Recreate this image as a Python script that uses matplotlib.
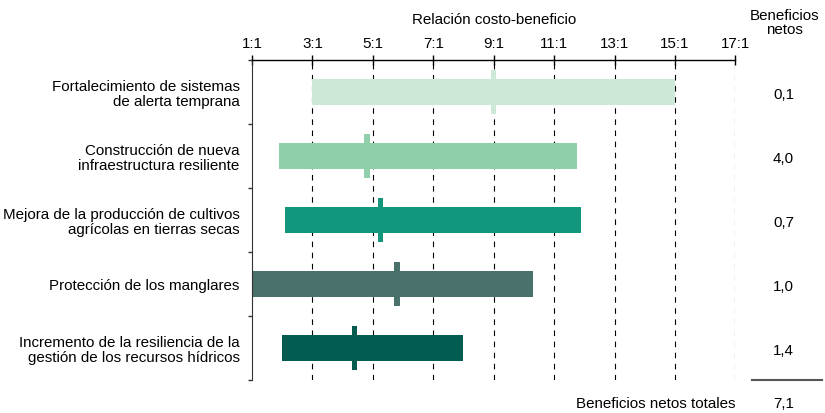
import numpy as np
import matplotlib.pyplot as plt
from matplotlib.ticker import FixedLocator

plt.rcParams['font.family'] = ['Liberation Sans', 'DejaVu Sans']

categories = [
    'Fortalecimiento de sistemas\nde alerta temprana',
    'Construcción de nueva\ninfraestructura resiliente',
    'Mejora de la producción de cultivos\nagrícolas en tierras secas',
    'Protección de los manglares',
    'Incremento de la resiliencia de la\ngestión de los recursos hídricos',
]
ratio_low = [3.0, 1.9, 2.1, 1.0, 2.0]
ratio_high = [15.0, 11.75, 11.9, 10.3, 8.0]
ratio_mid = [9.0, 4.8, 5.25, 5.8, 4.4]
net_benefits = ['0,1', '4,0', '0,7', '1,0', '1,4']
net_total = '7,1'
colors = ['#cde8d7', '#8fd0ab', '#12967c', '#4a716b', '#025c4f']
xticks = [1, 3, 5, 7, 9, 11, 13, 15, 17]
xtick_labels = [f'{t}:1' for t in xticks]

FS = 10.9

fig = plt.figure(figsize=(8.25, 4.13), dpi=100)
ax = fig.add_axes([0.3055, 0.0799, 0.5858, 0.7748])

y = np.arange(len(categories))
for i in y:
    ax.barh(i, ratio_high[i] - ratio_low[i], left=ratio_low[i], height=0.4,
            color=colors[i], zorder=2)
    ax.barh(i, 0.18, left=ratio_mid[i] - 0.09, height=0.7, color=colors[i], zorder=3)

for t in xticks[1:]:
    ax.axvline(t, color='black', linestyle=(0, (5, 5)), linewidth=0.8, zorder=1)

ax.set_xlim(1, 17)
ax.set_ylim(len(categories) - 0.5, -0.5)
ax.xaxis.tick_top()
ax.xaxis.set_label_position('top')
ax.set_xticks(xticks)
ax.set_xticklabels(xtick_labels, fontsize=FS)
ax.tick_params(axis='x', direction='inout', length=7, width=1, pad=3)
ax.set_xlabel('Relación costo-beneficio', fontsize=FS, labelpad=9)

ax.set_yticks(y)
ax.set_yticklabels(categories, fontsize=FS, ha='right', linespacing=1.1)
ax.tick_params(axis='y', length=0, pad=9)
ax.yaxis.set_minor_locator(FixedLocator(np.arange(-0.5, len(categories), 1)))
ax.tick_params(axis='y', which='minor', length=3, width=1, color='#333333')

ax.spines['right'].set_visible(False)
ax.spines['bottom'].set_visible(False)
ax.spines['top'].set_linewidth(1)
ax.spines['left'].set_color('#333333')

# columna de beneficios netos
trans = ax.get_yaxis_transform()
fig.text(0.951, 0.978, 'Beneficios\nnetos', ha='center', va='top', fontsize=FS,
         linespacing=1.0)
for i, v in enumerate(net_benefits):
    ax.text(1.1, i + 0.04, v, transform=trans, ha='center', va='center', fontsize=FS)
ax.plot([1.0345, 1.179], [4.5, 4.5], transform=trans, color='#555555', linewidth=1.5,
        clip_on=False)
ax.text(1.1, 4.88, net_total, transform=trans, ha='center', va='center', fontsize=FS)
ax.text(1.0, 4.88, 'Beneficios netos totales', transform=trans, ha='right',
        va='center', fontsize=FS)

plt.savefig('out.png', dpi=100)
